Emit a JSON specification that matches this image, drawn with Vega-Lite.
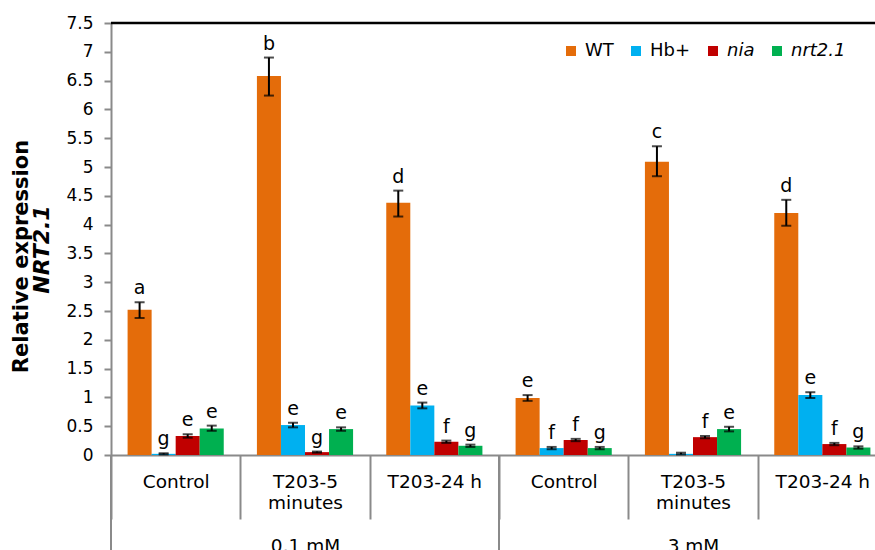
{
  "$schema": "https://vega.github.io/schema/vega-lite/v6.json",
  "width": 764,
  "height": 432,
  "autosize": {"type": "none"},
  "padding": {"left": 111, "top": 23, "right": 0, "bottom": 95},
  "config": {"font": "DejaVu Sans", "view": {"stroke": null}},
  "datasets": {
    "bars": [
      {"g": "0.1 mM|Control", "geno": "WT", "v": 2.52, "lo": 2.38, "hi": 2.65, "lbl": "a"},
      {"g": "0.1 mM|Control", "geno": "Hb+", "v": 0.02, "lo": 0.01, "hi": 0.03, "lbl": "g"},
      {"g": "0.1 mM|Control", "geno": "nia", "v": 0.33, "lo": 0.30, "hi": 0.36, "lbl": "e"},
      {"g": "0.1 mM|Control", "geno": "nrt2.1", "v": 0.46, "lo": 0.42, "hi": 0.51, "lbl": "e"},
      {"g": "0.1 mM|T203-5 minutes", "geno": "WT", "v": 6.58, "lo": 6.24, "hi": 6.90, "lbl": "b"},
      {"g": "0.1 mM|T203-5 minutes", "geno": "Hb+", "v": 0.52, "lo": 0.48, "hi": 0.56, "lbl": "e"},
      {"g": "0.1 mM|T203-5 minutes", "geno": "nia", "v": 0.05, "lo": 0.04, "hi": 0.06, "lbl": "g"},
      {"g": "0.1 mM|T203-5 minutes", "geno": "nrt2.1", "v": 0.45, "lo": 0.42, "hi": 0.48, "lbl": "e"},
      {"g": "0.1 mM|T203-24 h", "geno": "WT", "v": 4.38, "lo": 4.14, "hi": 4.59, "lbl": "d"},
      {"g": "0.1 mM|T203-24 h", "geno": "Hb+", "v": 0.86, "lo": 0.81, "hi": 0.91, "lbl": "e"},
      {"g": "0.1 mM|T203-24 h", "geno": "nia", "v": 0.23, "lo": 0.21, "hi": 0.25, "lbl": "f"},
      {"g": "0.1 mM|T203-24 h", "geno": "nrt2.1", "v": 0.16, "lo": 0.14, "hi": 0.18, "lbl": "g"},
      {"g": "3 mM|Control", "geno": "WT", "v": 0.99, "lo": 0.94, "hi": 1.04, "lbl": "e"},
      {"g": "3 mM|Control", "geno": "Hb+", "v": 0.12, "lo": 0.10, "hi": 0.14, "lbl": "f"},
      {"g": "3 mM|Control", "geno": "nia", "v": 0.26, "lo": 0.24, "hi": 0.28, "lbl": "f"},
      {"g": "3 mM|Control", "geno": "nrt2.1", "v": 0.12, "lo": 0.10, "hi": 0.14, "lbl": "g"},
      {"g": "3 mM|T203-5 minutes", "geno": "WT", "v": 5.09, "lo": 4.84, "hi": 5.36, "lbl": "c"},
      {"g": "3 mM|T203-5 minutes", "geno": "Hb+", "v": 0.02, "lo": 0.01, "hi": 0.04, "lbl": ""},
      {"g": "3 mM|T203-5 minutes", "geno": "nia", "v": 0.31, "lo": 0.29, "hi": 0.33, "lbl": "f"},
      {"g": "3 mM|T203-5 minutes", "geno": "nrt2.1", "v": 0.45, "lo": 0.41, "hi": 0.49, "lbl": "e"},
      {"g": "3 mM|T203-24 h", "geno": "WT", "v": 4.20, "lo": 3.98, "hi": 4.43, "lbl": "d"},
      {"g": "3 mM|T203-24 h", "geno": "Hb+", "v": 1.04, "lo": 0.99, "hi": 1.09, "lbl": "e"},
      {"g": "3 mM|T203-24 h", "geno": "nia", "v": 0.19, "lo": 0.17, "hi": 0.21, "lbl": "f"},
      {"g": "3 mM|T203-24 h", "geno": "nrt2.1", "v": 0.13, "lo": 0.11, "hi": 0.15, "lbl": "g"}
    ],
    "seps": [{"g": "0.1 mM|Control"}, {"g": "3 mM|Control"}]
  },
  "data": {"name": "bars"},
  "layer": [
    {
      "mark": {"type": "bar"},
      "encoding": {
        "x": {
          "field": "g", "type": "nominal",
          "scale": {
            "domain": ["0.1 mM|Control", "0.1 mM|T203-5 minutes", "0.1 mM|T203-24 h", "3 mM|Control", "3 mM|T203-5 minutes", "3 mM|T203-24 h"],
            "range": [0, 776], "paddingInner": 0, "paddingOuter": 0
          },
          "axis": {
            "title": null, "orient": "bottom",
            "tickBand": "extent", "tickSize": 64, "tickColor": "#8a8a8a", "tickWidth": 2,
            "domainColor": "#8a8a8a", "domainWidth": 2,
            "labelAngle": 0, "labelFontSize": 18.5, "labelColor": "#000000",
            "labelPadding": -46.6, "labelLineHeight": 21.5, "labelOverlap": false, "labelBound": false, "labelLimit": 0,
            "labelExpr": "datum.value == '0.1 mM|T203-5 minutes' ? ['T203-5', 'minutes', '\u2800', '0.1 mM'] : datum.value == '3 mM|T203-5 minutes' ? ['T203-5', 'minutes', '\u2800', '3 mM'] : split(datum.value, '|')[1]"
          }
        },
        "xOffset": {"field": "geno", "type": "nominal", "scale": {"domain": ["WT", "Hb+", "nia", "nrt2.1"], "paddingInner": 0, "paddingOuter": 0.69}},
        "y": {
          "field": "v", "type": "quantitative",
          "scale": {"domain": [0, 7.5], "nice": false, "zero": true},
          "axis": {
            "orient": "left",
            "title": "Relative expression", "titleFontSize": 21, "titleFontWeight": "bold", "titleColor": "#000000",
            "titlePadding": 34, "minExtent": 0, "titleY": 233,
            "values": [0, 0.5, 1, 1.5, 2, 2.5, 3, 3.5, 4, 4.5, 5, 5.5, 6, 6.5, 7, 7.5],
            "format": "~g", "grid": false,
            "domainColor": "#8a8a8a", "domainWidth": 2, "tickColor": "#8a8a8a", "tickWidth": 2, "tickSize": 7,
            "labelPadding": 11, "labelFontSize": 17, "labelColor": "#000000"
          }
        },
        "color": {
          "field": "geno", "type": "nominal",
          "scale": {"domain": ["WT", "Hb+", "nia", "nrt2.1"], "range": ["#E46C0A", "#00B0F0", "#C00000", "#00B050"]},
          "legend": {
            "title": null, "orient": "none", "legendX": 451, "legendY": 19, "direction": "horizontal",
            "symbolType": "square", "symbolSize": 100, "symbolStrokeWidth": 0,
            "labelFontSize": 18, "labelColor": "#000000", "labelOffset": 5, "columnPadding": 13,
            "encode": {"labels": {"update": {"fontStyle": {"signal": "indexof(['nia', 'nrt2.1'], datum.label) >= 0 ? 'italic' : 'normal'"}}}}
          }
        }
      }
    },
    {
      "mark": {"type": "rule", "color": "#000000", "strokeWidth": 2},
      "encoding": {
        "x": {"field": "g", "type": "nominal"},
        "xOffset": {"field": "geno", "type": "nominal"},
        "y": {
          "field": "lo", "type": "quantitative",
          "axis": {
            "orient": "left",
            "title": "NRT2.1", "titleFontSize": 22, "titleFontWeight": "bold", "titleFontStyle": "italic", "titleColor": "#000000",
            "labels": false, "ticks": false, "domain": false, "grid": false,
            "minExtent": 0, "titlePadding": 58, "titleY": 226
          }
        },
        "y2": {"field": "hi"}
      }
    },
    {
      "mark": {"type": "tick", "color": "#000000", "size": 10, "thickness": 2},
      "encoding": {
        "x": {"field": "g", "type": "nominal"},
        "xOffset": {"field": "geno", "type": "nominal"},
        "y": {"field": "lo", "type": "quantitative", "axis": null}
      }
    },
    {
      "mark": {"type": "tick", "color": "#000000", "size": 10, "thickness": 2},
      "encoding": {
        "x": {"field": "g", "type": "nominal"},
        "xOffset": {"field": "geno", "type": "nominal"},
        "y": {"field": "hi", "type": "quantitative", "axis": null}
      }
    },
    {
      "mark": {"type": "text", "fontSize": 19, "color": "#000000", "baseline": "alphabetic", "dy": -8},
      "encoding": {
        "x": {"field": "g", "type": "nominal"},
        "xOffset": {"field": "geno", "type": "nominal"},
        "y": {"field": "hi", "type": "quantitative", "axis": null},
        "text": {"field": "lbl"}
      }
    },
    {
      "data": {"values": [{}]},
      "mark": {"type": "rule", "color": "#000000", "strokeWidth": 2.5},
      "encoding": {"y": {"datum": 7.5, "axis": null}}
    },
    {
      "data": {"name": "seps"},
      "mark": {"type": "rule", "color": "#8a8a8a", "strokeWidth": 2},
      "encoding": {
        "x": {"field": "g", "type": "nominal", "bandPosition": 0},
        "y": {"datum": 0, "axis": null},
        "y2": {"datum": -1.7}
      }
    }
  ],
  "resolve": {"axis": {"y": "independent"}}
}
